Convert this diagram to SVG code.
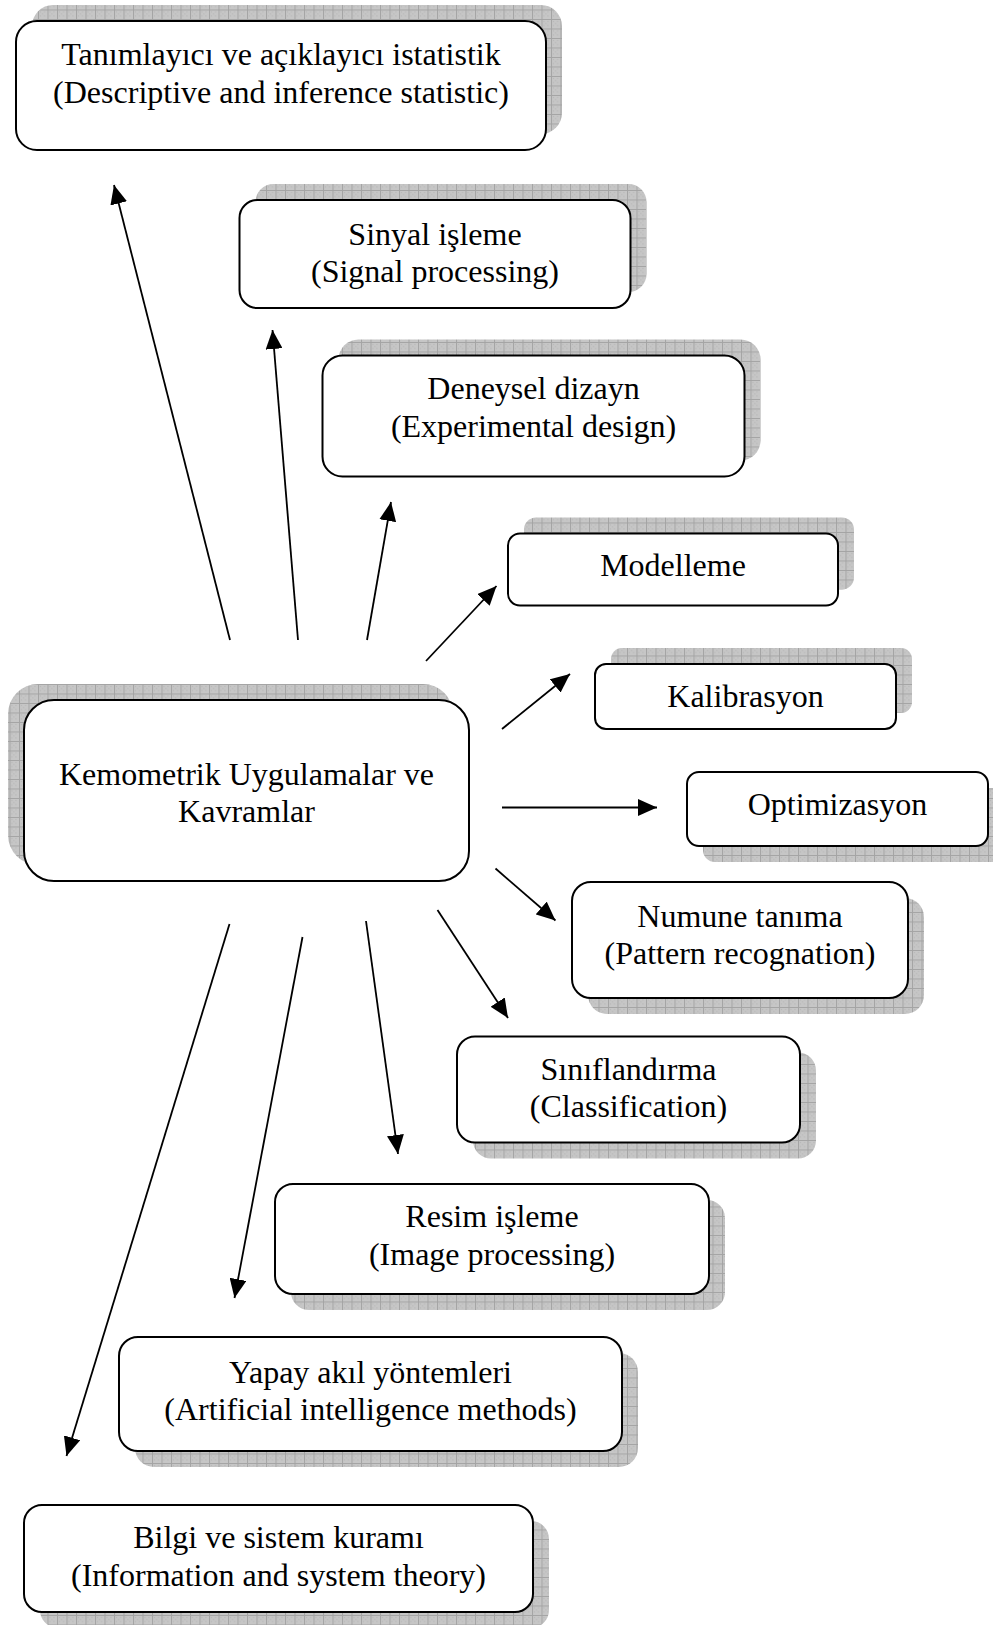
<svg xmlns="http://www.w3.org/2000/svg" width="993" height="1625" viewBox="0 0 993 1625">
  <style>
    .box { fill: #ffffff; stroke: #000000; stroke-width: 2; }
    .shadow { fill: url(#grid); stroke: none; }
    .label { font-family: "Liberation Serif", "Times New Roman", serif; font-size: 32px; fill: #000000; text-anchor: middle; }
    .arrow { stroke: #000000; stroke-width: 1.8; fill: none; marker-end: url(#head); }
  </style>
  <defs>
    <!-- hatched grey fill used for the offset box shadows -->
    <pattern id="grid" width="9.5" height="9.5" patternUnits="userSpaceOnUse">
      <rect width="9.5" height="9.5" fill="#c6c6c6"/>
      <rect x="2" y="2" width="1" height="1" fill="#b2b2b2"/>
      <rect x="4" y="4" width="1" height="1" fill="#b2b2b2"/>
      <rect x="6" y="6" width="1" height="1" fill="#b2b2b2"/>
      <rect x="2" y="6" width="1" height="1" fill="#b2b2b2"/>
      <rect x="6" y="2" width="1" height="1" fill="#b2b2b2"/>
      <path d="M0 0.5H9.5M0.5 0V9.5" stroke="#a4a4a4" stroke-width="1"/>
    </pattern>
    <marker id="head" markerWidth="19" markerHeight="17" refX="19" refY="8.5" orient="auto" markerUnits="userSpaceOnUse">
      <path d="M0 0L19 8.5L0 17Z" fill="#000000"/>
    </marker>
  </defs>

  <!-- connectors radiating from the central concept -->
  <g id="connectors">
    <line class="arrow" x1="230" y1="640" x2="114" y2="185"/>
    <line class="arrow" x1="298" y1="640" x2="272.5" y2="330"/>
    <line class="arrow" x1="367" y1="640" x2="391" y2="502"/>
    <line class="arrow" x1="426" y1="661" x2="496.5" y2="586"/>
    <line class="arrow" x1="502" y1="729" x2="570" y2="674"/>
    <line class="arrow" x1="502" y1="807.5" x2="657" y2="807.5"/>
    <line class="arrow" x1="495.5" y1="868.5" x2="555.5" y2="920.5"/>
    <line class="arrow" x1="437.5" y1="910" x2="508" y2="1018"/>
    <line class="arrow" x1="366" y1="921" x2="398" y2="1154"/>
    <line class="arrow" x1="302.5" y1="937" x2="234.5" y2="1298"/>
    <line class="arrow" x1="229.5" y1="924" x2="66.5" y2="1456"/>
  </g>

  <g id="node-center">
    <rect class="shadow" x="8" y="684" width="445" height="181" rx="30"/>
    <rect class="box" x="24" y="700" width="445" height="181" rx="30"/>
    <text class="label" x="246.5" y="785">Kemometrik Uygulamalar ve</text>
    <text class="label" x="246.5" y="822">Kavramlar</text>
  </g>

  <g id="node-descriptive">
    <rect class="shadow" x="32" y="5" width="530" height="129" rx="21"/>
    <rect class="box" x="16" y="21" width="530" height="129" rx="21"/>
    <text class="label" x="281" y="65">Tanımlayıcı ve açıklayıcı istatistik</text>
    <text class="label" x="281" y="103">(Descriptive and inference statistic)</text>
  </g>

  <g id="node-signal">
    <rect class="shadow" x="255.5" y="184" width="391" height="108" rx="18"/>
    <rect class="box" x="239.5" y="200" width="391" height="108" rx="18"/>
    <text class="label" x="435" y="245">Sinyal işleme</text>
    <text class="label" x="435" y="282">(Signal processing)</text>
  </g>

  <g id="node-experimental">
    <rect class="shadow" x="338.5" y="339.5" width="422" height="121" rx="20"/>
    <rect class="box" x="322.5" y="355.5" width="422" height="121" rx="20"/>
    <text class="label" x="533.5" y="399">Deneysel dizayn</text>
    <text class="label" x="533.5" y="437">(Experimental design)</text>
  </g>

  <g id="node-modelling">
    <rect class="shadow" x="524" y="517.5" width="330" height="72" rx="12"/>
    <rect class="box" x="508" y="533.5" width="330" height="72" rx="12"/>
    <text class="label" x="673" y="576">Modelleme</text>
  </g>

  <g id="node-calibration">
    <rect class="shadow" x="611" y="648" width="301" height="65" rx="11"/>
    <rect class="box" x="595" y="664" width="301" height="65" rx="11"/>
    <text class="label" x="745.5" y="707">Kalibrasyon</text>
  </g>

  <g id="node-optimization">
    <rect class="shadow" x="703" y="788" width="301" height="74" rx="12"/>
    <rect class="box" x="687" y="772" width="301" height="74" rx="12"/>
    <text class="label" x="837.5" y="815">Optimizasyon</text>
  </g>

  <g id="node-pattern">
    <rect class="shadow" x="588" y="898" width="336" height="116" rx="19"/>
    <rect class="box" x="572" y="882" width="336" height="116" rx="19"/>
    <text class="label" x="740" y="927">Numune tanıma</text>
    <text class="label" x="740" y="964">(Pattern recognation)</text>
  </g>

  <g id="node-classification">
    <rect class="shadow" x="473" y="1052.5" width="343" height="106" rx="18"/>
    <rect class="box" x="457" y="1036.5" width="343" height="106" rx="18"/>
    <text class="label" x="628.5" y="1080">Sınıflandırma</text>
    <text class="label" x="628.5" y="1117">(Classification)</text>
  </g>

  <g id="node-image">
    <rect class="shadow" x="291" y="1200" width="434" height="110" rx="18"/>
    <rect class="box" x="275" y="1184" width="434" height="110" rx="18"/>
    <text class="label" x="492" y="1227">Resim işleme</text>
    <text class="label" x="492" y="1265">(Image processing)</text>
  </g>

  <g id="node-ai">
    <rect class="shadow" x="135" y="1353" width="503" height="114" rx="19"/>
    <rect class="box" x="119" y="1337" width="503" height="114" rx="19"/>
    <text class="label" x="370.5" y="1383">Yapay akıl yöntemleri</text>
    <text class="label" x="370.5" y="1420">(Artificial intelligence methods)</text>
  </g>

  <g id="node-information">
    <rect class="shadow" x="40" y="1521" width="509" height="107" rx="18"/>
    <rect class="box" x="24" y="1505" width="509" height="107" rx="18"/>
    <text class="label" x="278.5" y="1548">Bilgi ve sistem kuramı</text>
    <text class="label" x="278.5" y="1586">(Information and system theory)</text>
  </g>
</svg>
